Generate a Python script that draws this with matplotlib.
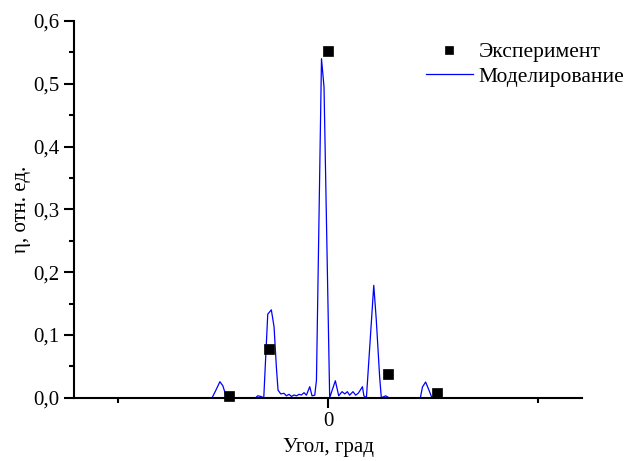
import numpy as np
import matplotlib
matplotlib.use('Agg')
import matplotlib.pyplot as plt

plt.rcParams['font.family'] = ['Liberation Serif', 'DejaVu Serif']

# experiment points
exp_angle = [-0.471, -0.281, 0.0, 0.284, 0.521]
exp_eta = [0.003, 0.077, 0.553, 0.037, 0.007]

# simulated curve
mod_angle = [-0.552, -0.534, -0.515, -0.501, -0.490, -0.480, -0.420, -0.344, -0.335,
             -0.320, -0.306, -0.287, -0.270, -0.257, -0.246, -0.238, -0.225, -0.210,
             -0.198, -0.186, -0.174, -0.162, -0.150, -0.138, -0.127, -0.114, -0.103,
             -0.087, -0.076, -0.063, -0.055, -0.031, -0.019, 0.008, 0.035, 0.051,
             0.067, 0.080, 0.092, 0.103, 0.119, 0.132, 0.145, 0.164, 0.171, 0.183,
             0.218, 0.230, 0.246, 0.254, 0.275, 0.290, 0.440, 0.450, 0.465, 0.481, 0.495]
mod_eta = [0.0, 0.012, 0.0255, 0.019, 0.0075, 0.0, 0.0, 0.0, 0.003,
           0.002, 0.0, 0.133, 0.140, 0.113, 0.049, 0.012, 0.006, 0.007,
           0.003, 0.0054, 0.002, 0.0043, 0.003, 0.0054, 0.0043, 0.008, 0.004,
           0.0175, 0.003, 0.004, 0.028, 0.540, 0.495, 0.0, 0.027, 0.003,
           0.0096, 0.006, 0.0096, 0.004, 0.0096, 0.004, 0.0075, 0.0175, 0.003, 0.0,
           0.179, 0.124, 0.033, 0.0, 0.003, 0.0, 0.0, 0.017, 0.025, 0.012, 0.0]

fig = plt.figure(figsize=(6.25, 4.61), dpi=100)
ax = fig.add_axes([0.1184, 0.1373, 0.8128, 0.8171])

ax.plot(mod_angle, mod_eta, color='#0000ff', lw=0.9, label='Моделирование', zorder=2)
ax.plot(exp_angle, exp_eta, 's', color='black', ms=7, mew=0.5, label='Эксперимент',
        zorder=4, clip_on=False)

ax.set_xlim(-1.21, 1.21)
ax.set_ylim(0, 0.6)

ax.spines['top'].set_visible(False)
ax.spines['right'].set_visible(False)
ax.spines['left'].set_linewidth(1.5)
ax.spines['bottom'].set_linewidth(1.5)

ax.set_xticks([0])
ax.set_xticklabels(['0'])
ax.set_xticks([-1, 1], minor=True)
yt = np.arange(0, 0.61, 0.1)
ax.set_yticks(yt)
ax.set_yticklabels([('%.1f' % v).replace('.', ',') for v in yt])
ax.set_yticks(np.arange(0.05, 0.6, 0.1), minor=True)

ax.tick_params(which='major', direction='out', length=7.2, width=1.5, labelsize=15, pad=3)
ax.tick_params(which='minor', direction='out', length=3.8, width=1.5)

ax.set_xlabel('Угол, град', fontsize=15, labelpad=5)
ax.set_ylabel('η, отн. ед.', fontsize=15, labelpad=2)

handles, labels = ax.get_legend_handles_labels()
ax.legend(handles[::-1], labels[::-1], loc='upper left', bbox_to_anchor=(0.681, 0.908),
          bbox_transform=fig.transFigure, frameon=False, fontsize=15.5,
          handlelength=2.2, handletextpad=0.25, labelspacing=0.2,
          borderpad=0, borderaxespad=0, markerscale=0.8)

fig.savefig('out.png', dpi=100)
